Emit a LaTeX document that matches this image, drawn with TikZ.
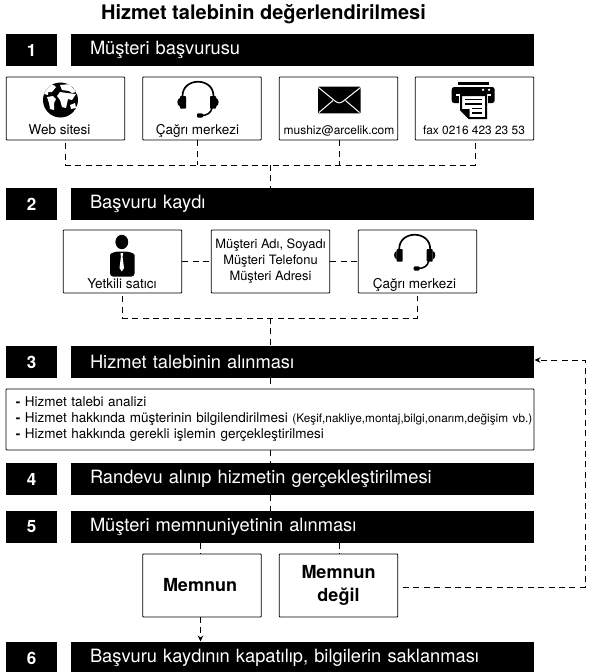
\documentclass[tikz,border=0pt]{standalone}
\usepackage{fontspec}
\setmainfont{TeX Gyre Heros}
\usetikzlibrary{arrows.meta,calc}
\newcommand{\fs}[1]{\fontsize{#1}{#1}\selectfont}
\tikzset{
  x=1pt,y=-1pt,
  numbar/.style={fill=black,text=white,minimum width=51pt,minimum height=32pt,inner sep=0pt,font=\fs{17}\bfseries},
  mainbar/.style={fill=black,text=white,minimum width=463pt,minimum height=32pt,inner xsep=19pt,inner ysep=0pt,text width=425pt,align=left,font=\fs{18.3}},
  card/.style={draw=black,line width=0.9pt,rounded corners=0.8pt,fill=white,minimum width=118.5pt,minimum height=63pt,inner sep=0pt},
  lab/.style={font=\fs{13.5},inner sep=0pt,anchor=base},
  dashline/.style={dash pattern=on 6pt off 4.4pt,line width=1pt},
  headset/.pic={
    \draw[line width=1.7pt] (-15.5,14) .. controls (-15.5,-5) and (15.5,-5) .. (15.5,14);
    \fill[rounded corners=0.8pt] (-18,14) rectangle (-12,26.7);
    \fill[rounded corners=0.8pt] (18,14) rectangle (12,26.7);
    \fill (-18,16) .. controls (-21.5,17) and (-21.5,23) .. (-18,24.5) -- cycle;
    \fill (18,16) .. controls (21.5,17) and (21.5,23) .. (18,24.5) -- cycle;
    \draw[line width=1.5pt] (14,26) .. controls (13,31) and (9,33.5) .. (3,33.5);
    \fill[rounded corners=1pt] (-1,31.3) rectangle (5,35.5);
  }
}
\begin{document}
\begin{tikzpicture}
\useasboundingbox (0,0) rectangle (593,672);
% title
\node[font=\fs{20}\bfseries,inner sep=0pt,anchor=base] (title) at (263.5,19.5) {Hizmet talebinin değerlendirilmesi};
% bars
\foreach \n/\y in {1/50,2/204,3/362,4/479,5/527,6/658}{
  \node[numbar] (n\n) at (31.5,\y) {\n};
}
\node[mainbar] (b1) at (302.5,50) {Müşteri başvurusu};
\node[mainbar] (b2) at (302.5,204) {Başvuru kaydı};
\node[mainbar] (b3) at (302.5,362) {Hizmet talebinin alınması};
\node[mainbar] (b4) at (302.5,479) {Randevu alınıp hizmetin gerçekleştirilmesi};
\node[mainbar] (b5) at (302.5,527) {Müşteri memnuniyetinin alınması};
\node[mainbar] (b6) at (302.5,658) {Başvuru kaydının kapatılıp, bilgilerin saklanması};
% row 1 cards
\node[card] (web) at (65.5,108.5) {};
\node[card] (cagri1) at (202,108.5) {};
\node[card] (mail) at (338.5,108.5) {};
\node[card] (fax) at (474.5,108.5) {};
\node[lab] (tweb) at (59.5,134.5) {Web sitesi};
\node[lab] (tc1) at (197.5,134.5) {Çağrı merkezi};
\node[lab,font=\fs{12}] (tm) at (339,134.5) {mushiz@arcelik.com};
\node[lab,font=\fs{11.9}] (tf) at (474,134.5) {fax 0216 423 23 53};
% globe
\begin{scope}
\clip (60.5,100) circle (17.5);
\fill (60.5,100) circle (17.5);
\fill[white] (46,87) .. controls (50,83) and (55,85) .. (56,87) -- (52,92) -- (48,92) -- (48,95) -- (44,94) -- cycle;
\fill[white] (47,97) -- (53,96) -- (56,99) -- (54,103) -- (54,110) -- (50,109) -- (49,103) -- cycle;
\fill[white] (60,85) -- (70,84) -- (76,92) -- (72,93) -- (69,91) -- (62,90) -- cycle;
\fill[white] (60,92) -- (67,93) -- (76,94) -- (72,100) -- (68,99) -- (66,108) -- (62,107) -- (60,100) -- (57,96) -- cycle;
\fill[white] (70,105) -- (75,103) -- (76,108) -- (71,109) -- cycle;
\end{scope}
% headset
\pic at (198,82) {headset};
% envelope
\begin{scope}
\fill[rounded corners=1pt] (318,86.7) rectangle (360.7,113.3);
\draw[white,line width=1pt] (318.5,87.5) -- (335,101) .. controls (338,103.5) and (340.5,103.5) .. (343.5,101) -- (360.5,87.5);
\draw[white,line width=1pt] (319,112.5) -- (333,100.5) (359.5,112.5) -- (345.5,100.5);
\end{scope}
% printer
\begin{scope}
\fill (458,81.5) rectangle (489,85);
\fill[rounded corners=2.5pt] (451.7,87) rectangle (494.7,103);
\fill[white] (483,89.8) circle (1.3) (489,89.8) circle (1.3);
\fill[white] (456,93.5) rectangle (491,95.5);
\fill[white] (459,95.5) rectangle (488,106);
\draw[fill=white,line width=2pt] (461,95) -- (486,95) -- (486,118) -- (469,118) -- (461,110) -- cycle;
\fill (461,109) -- (469.5,109) -- (469.5,118) -- cycle;
\draw[line width=1.1pt] (465,99.5) -- (482,99.5) (465,104) -- (482,104) (472,108.5) -- (482,108.5) (472,113) -- (482,113);
\end{scope}
% row 2 cards
\node[card] (sat) at (122.5,261.5) {};
\node[card,align=center,font=\fs{12.9}] (bilgi) at (270.5,261.5) {Müşteri Adı, Soyadı\\[3.2pt]Müşteri Telefonu\\[3.2pt]Müşteri Adresi};
\node[card] (cagri2) at (417.5,261.5) {};
\node[lab] (ts) at (122,288) {Yetkili satıcı};
\node[lab] (tc2) at (414.5,288) {Çağrı merkezi};
% person
\begin{scope}
\fill (121.8,242) ellipse (6.4 and 7.2);
\fill[rounded corners=3pt] (110,276.5) -- (110,258) .. controls (110,253) and (116,251.5) .. (121.7,251.5) .. controls (128,251.5) and (134.5,253) .. (134.5,258) -- (134.5,276.5) -- cycle;
\fill[white] (120.5,253) -- (123,253) -- (122.6,257) -- (124,268) -- (121.7,271.5) -- (119.5,268) -- (120.9,257) -- cycle;
\end{scope}
\pic at (414.7,235) {headset};
% text box
\node[card,minimum width=528pt,minimum height=61pt,text width=508pt,align=left,font=\fs{13.5},inner xsep=0pt] (tb) at (270,419.5) {%
\textbf{-} Hizmet talebi analizi\\[2.5pt]
\mbox{\textbf{-} Hizmet hakkında müşterinin bilgilendirilmesi {\fs{11.8}(Keşif,nakliye,montaj,bilgi,onarım,değişim vb.)}}\\[2.5pt]
\textbf{-} Hizmet hakkında gerekli işlemin gerçekleştirilmesi};
% satisfaction cards
\node[card,font=\fs{18}\bfseries] (mem) at (202,585.5) {Memnun\hspace*{4pt}};
\node[card,font=\fs{18}\bfseries,align=center] (mdeg) at (338.5,585.5) {Memnun\\[4.5pt]değil};
% junctions
\coordinate (r1) at (270,165);
\coordinate (a1) at (65.5,165);
\coordinate (a2) at (197.5,165);
\coordinate (a3) at (339.5,165);
\coordinate (a4) at (475,165);
\coordinate (r2) at (270,318);
\coordinate (s1) at (122.5,318);
\coordinate (s2) at (417,318);
\coordinate (fb1) at (585,587);
\coordinate (fb2) at (585,360);
\coordinate (fbs) at (398,587);
\coordinate (fbe) at (534.5,360);
% connectors
\draw[dashline] ($(a1|-web.south)+(0,3)$) -- (a1) -- (a4) -- ($(a4|-fax.south)+(0,3)$);
\draw[dashline] (a2|-cagri1.south) -- (a2);
\draw[dashline] (a3|-mail.south) -- (a3);
\draw[dashline] (r1) -- (r1|-b2.north);
\draw[dashline] (sat.east|-bilgi.center) -- (bilgi.west);
\draw[dashline] (bilgi.east) -- (cagri2.west);
\draw[dashline] ($(s1|-sat.south)+(0,3)$) -- (s1) -- (s2) -- ($(s2|-cagri2.south)+(0,3)$);
\draw[dashline] (r2) -- (r2|-b3.north);
\draw[dashline] (r2|-b3.south) -- (r2|-tb.north);
\draw[dashline] (r2|-tb.south) -- (r2|-b4.north);
\draw[dashline] (r2|-b4.south) -- (r2|-b5.north);
\draw[dashline] (200.5,543) -- (200.5,554);
\draw[dashline] (339.5,543) -- (339.5,554);
\draw[dashline,-{Stealth[length=6pt,width=5.5pt]}] (200.5,617) -- (200.5,641.5);
\draw[dashline,-{Stealth[length=6pt,width=5.5pt]}] ($(fbs)+(5,0)$) -- (fb1) -- (fb2) -- (fbe);
\end{tikzpicture}
\end{document}
